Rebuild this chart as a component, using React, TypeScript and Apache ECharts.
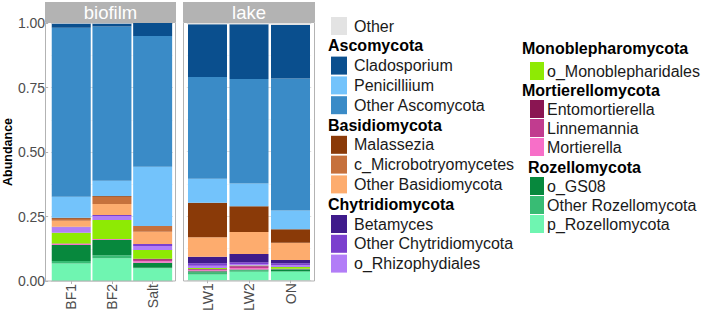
import React, { useEffect, useRef } from "react";
import * as echarts from "echarts";

// Samples grouped by habitat facet
const habitats = ["biofilm", "lake"];
const biofilmSamples = ["BF1", "BF2", "Salt"];
const lakeSamples = ["LW1", "LW2", "ON"];
const yTicks = [0, 0.25, 0.5, 0.75, 1];

// Relative abundance per sample, ordered BF1, BF2, Salt, LW1, LW2, ON
const pRozellomycota = [0.068, 0.088, 0.049, 0.022, 0.033, 0.033];
const otherRozellomycota = [0.01, 0.012, 0.002, 0.008, 0.006, 0.003];
const oGS08 = [0.062, 0.059, 0.02, 0.005, 0.003, 0.007];
const mortierella = [0.003, 0.003, 0.006, 0.004, 0.006, 0.001];
const linnemannia = [0.002, 0.001, 0.005, 0.003, 0.005, 0.001];
const entomortierella = [0, 0, 0.004, 0.002, 0.002, 0];
const oMonoblepharidales = [0.042, 0.073, 0.034, 0.004, 0.002, 0.007];
const oRhizophydiales = [0.021, 0.016, 0.016, 0.008, 0.006, 0.006];
const otherChytridiomycota = [0.002, 0.004, 0.007, 0.01, 0.007, 0.008];
const betamyces = [0, 0, 0, 0.025, 0.032, 0.013];
const otherBasidiomycota = [0.024, 0.042, 0.048, 0.076, 0.086, 0.067];
const cMicrobotryomycetes = [0.007, 0.029, 0.022, 0, 0, 0];
const malassezia = [0.004, 0.002, 0, 0.134, 0.1, 0.052];
const penicilliium = [0.082, 0.06, 0.23, 0.094, 0.088, 0.073];
const otherAscomycota = [0.655, 0.597, 0.507, 0.395, 0.406, 0.513];
const cladosporium = [0.016, 0.012, 0.05, 0.205, 0.213, 0.208];
const other = [0.002, 0.002, 0, 0.005, 0.005, 0.008];

// Stack order, bottom to top
const stackOrder: [string, number[]][] = [
  ["p_Rozellomycota", pRozellomycota],
  ["Other Rozellomycota", otherRozellomycota],
  ["o_GS08", oGS08],
  ["Mortierella", mortierella],
  ["Linnemannia", linnemannia],
  ["Entomortierella", entomortierella],
  ["o_Monoblepharidales", oMonoblepharidales],
  ["o_Rhizophydiales", oRhizophydiales],
  ["Other Chytridiomycota", otherChytridiomycota],
  ["Betamyces", betamyces],
  ["Other Basidiomycota", otherBasidiomycota],
  ["c_Microbotryomycetes", cMicrobotryomycetes],
  ["Malassezia", malassezia],
  ["Penicilliium", penicilliium],
  ["Other Ascomycota", otherAscomycota],
  ["Cladosporium", cladosporium],
  ["Other", other],
];

const taxonColors: Record<string, string> = {
  Other: "#E3E3E3",
  Cladosporium: "#0A4F8E",
  Penicilliium: "#73C3FB",
  "Other Ascomycota": "#3A8BC7",
  Malassezia: "#8A3A08",
  c_Microbotryomycetes: "#C6713C",
  "Other Basidiomycota": "#FDAC6E",
  Betamyces: "#3F1B8B",
  "Other Chytridiomycota": "#7B40CE",
  o_Rhizophydiales: "#B27DF7",
  o_Monoblepharidales: "#8EEA04",
  Entomortierella: "#8A1552",
  Linnemannia: "#C13C8F",
  Mortierella: "#F76FC8",
  o_GS08: "#07883D",
  "Other Rozellomycota": "#38BC74",
  p_Rozellomycota: "#6FF5B1",
};

// Legend columns: phylum headings and their taxa
const legendColumn1 = [
  "Other",
  "#Ascomycota",
  "Cladosporium",
  "Penicilliium",
  "Other Ascomycota",
  "#Basidiomycota",
  "Malassezia",
  "c_Microbotryomycetes",
  "Other Basidiomycota",
  "#Chytridiomycota",
  "Betamyces",
  "Other Chytridiomycota",
  "o_Rhizophydiales",
];
const legendColumn2 = [
  "#Monoblepharomycota",
  "o_Monoblepharidales",
  "#Mortierellomycota",
  "Entomortierella",
  "Linnemannia",
  "Mortierella",
  "#Rozellomycota",
  "o_GS08",
  "Other Rozellomycota",
  "p_Rozellomycota",
];

const FONT = "'Liberation Sans', Arial, sans-serif";

function buildLegend(): any[] {
  const els: any[] = [];
  const col1Y = (i: number) => 26 + i * 19.8;
  const col2Y = [48, 71, 90, 109, 128, 147, 167, 186, 205, 224];
  const addEntry = (
    label: string,
    y: number,
    titleX: number,
    keyX: number,
    keyW: number,
    textX: number
  ) => {
    if (label.startsWith("#")) {
      els.push({
        type: "text",
        x: titleX,
        y,
        style: {
          text: label.slice(1),
          font: `bold 16px ${FONT}`,
          fill: "#000",
          verticalAlign: "middle",
        },
      });
    } else {
      els.push({
        type: "rect",
        shape: { x: keyX, y: y - 9, width: keyW, height: 18 },
        style: { fill: taxonColors[label] },
      });
      els.push({
        type: "text",
        x: textX,
        y,
        style: {
          text: label,
          font: `16px ${FONT}`,
          fill: "#1A1A1A",
          verticalAlign: "middle",
        },
      });
    }
  };
  legendColumn1.forEach((l, i) => addEntry(l, col1Y(i), 328, 331, 16, 354));
  legendColumn2.forEach((l, i) =>
    addEntry(l, col2Y[i], l === "#Rozellomycota" ? 528 : 522, 530, 14, 547)
  );
  return els;
}

function buildPanels(): any[] {
  const els: any[] = [];
  const panels = [
    { x: 45, w: 131 },
    { x: 183, w: 132 },
  ];
  panels.forEach((p, i) => {
    els.push({
      type: "rect",
      shape: { x: p.x, y: 2, width: p.w, height: 20 },
      style: { fill: "#B3B3B3" },
    });
    els.push({
      type: "text",
      x: p.x + p.w / 2,
      y: 12.5,
      style: {
        text: habitats[i],
        font: `18.5px ${FONT}`,
        fill: "#FFFFFF",
        align: "center",
        verticalAlign: "middle",
      },
    });
    els.push({
      type: "rect",
      z: 100,
      shape: { x: p.x + 0.5, y: 22.5, width: p.w - 1, height: 258.5 },
      style: { fill: "none", stroke: "#B3B3B3", lineWidth: 1 },
    });
  });
  return els;
}

export default function App() {
  const ref = useRef<HTMLDivElement>(null);

  useEffect(() => {
    if (!ref.current) return;
    const chart = echarts.init(ref.current, undefined, { renderer: "svg" });

    const grids = [
      { left: 47.75, top: 23, width: 125.25, height: 258 },
      { left: 186.75, top: 23, width: 124.5, height: 258 },
    ];

    const sampleSets = [biofilmSamples, lakeSamples];

    const xAxes = sampleSets.map((cats, i) => ({
      type: "category",
      gridIndex: i,
      data: cats,
      axisLine: { show: false },
      axisTick: {
        show: true,
        alignWithLabel: true,
        length: 3,
        lineStyle: { color: "#B3B3B3" },
      },
      axisLabel: {
        rotate: 90,
        margin: 3,
        fontSize: 14,
        fontFamily: FONT,
        color: "#4D4D4D",
      },
      splitLine: { show: false },
    }));

    const yAxes = [0, 1].map((i) => ({
      type: "value",
      gridIndex: i,
      min: yTicks[0],
      max: yTicks[yTicks.length - 1],
      interval: 0.25,
      offset: i === 0 ? 2.75 : 0,
      name: i === 0 ? "Abundance" : "",
      nameLocation: "middle",
      nameGap: 33,
      nameTextStyle: {
        fontSize: 12.5,
        fontWeight: "bold",
        fontFamily: FONT,
        color: "#000",
      },
      axisLine: { show: false },
      axisTick: {
        show: i === 0,
        length: 3,
        lineStyle: { color: "#B3B3B3" },
      },
      axisLabel: {
        show: i === 0,
        margin: 3,
        fontSize: 14,
        fontFamily: FONT,
        color: "#4D4D4D",
        formatter: (v: number) => v.toFixed(2),
      },
      splitLine: { show: true, lineStyle: { color: "#DEDEDE", width: 1 } },
      minorTick: { show: false, splitNumber: 2 },
      minorSplitLine: { show: true, lineStyle: { color: "#EDEDED", width: 0.5 } },
    }));

    const series: any[] = [];
    [0, 1].forEach((g) => {
      stackOrder.forEach(([name, values]) => {
        series.push({
          type: "bar",
          name,
          xAxisIndex: g,
          yAxisIndex: g,
          stack: "abundance" + g,
          barWidth: 39,
          data: values.slice(g * 3, g * 3 + 3),
          itemStyle: { color: taxonColors[name] },
          emphasis: { disabled: true },
        });
      });
    });

    chart.setOption({
      animation: false,
      backgroundColor: "#FFFFFF",
      grid: grids,
      xAxis: xAxes,
      yAxis: yAxes,
      series,
      graphic: [...buildPanels(), ...buildLegend()],
    });

    return () => chart.dispose();
  }, []);

  return (
    <div
      ref={ref}
      style={{ position: "fixed", left: 0, top: 0, width: 702, height: 314 }}
    />
  );
}
